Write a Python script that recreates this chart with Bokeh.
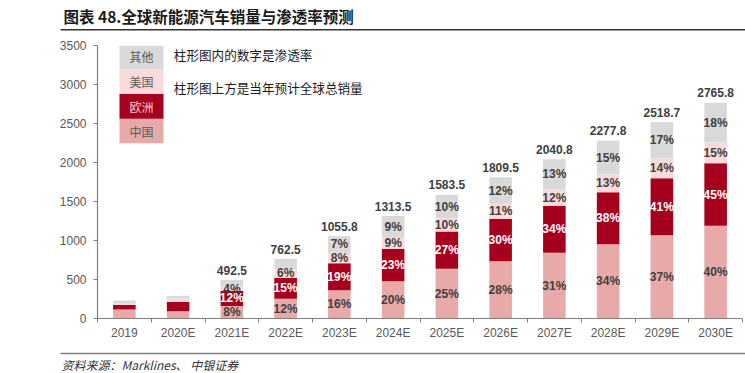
import numpy as np
from bokeh.plotting import figure
from bokeh.models import (ColumnDataSource, FixedTicker, Label, BoxAnnotation,
                          Range1d)
from bokeh.embed import file_html
from bokeh.resources import INLINE
from bokeh.core.properties import value

# ---------------- data (万辆) ----------------
years = ["2019", "2020E", "2021E", "2022E", "2023E", "2024E",
         "2025E", "2026E", "2027E", "2028E", "2029E", "2030E"]
china = [116, 94, 160, 254, 361, 477, 637, 735, 842, 953, 1068, 1188]
europe = [56, 119, 196, 269, 347, 414, 478, 543, 603, 667, 731, 803]
usa = [28, 44, 57, 108, 136, 154, 171, 192, 209, 226, 252, 265]
others = [32, 30, 79.5, 131.5, 211.8, 268.5, 297.5, 339.5, 386.8, 431.8, 467.7, 509.8]
totals = ["", "", "492.5", "762.5", "1055.8", "1313.5", "1583.5",
          "1809.5", "2040.8", "2277.8", "2518.7", "2765.8"]
pct_china = ["", "", "8%", "12%", "16%", "20%", "25%", "28%", "31%", "34%", "37%", "40%"]
pct_europe = ["", "", "12%", "15%", "19%", "23%", "27%", "30%", "34%", "38%", "41%", "45%"]
pct_usa = ["", "", "4%", "6%", "8%", "9%", "10%", "11%", "12%", "13%", "14%", "15%"]
pct_others = ["", "", "", "", "7%", "9%", "10%", "12%", "13%", "15%", "17%", "18%"]
y_ticks = [0, 500, 1000, 1500, 2000, 2500, 3000, 3500]

series = ["china", "europe", "usa", "others"]
legend_names = ["中国", "欧洲", "美国", "其他"]
colors = ["#E8A9A9", "#A6001F", "#FADADA", "#D9D9D9"]
pct_colors = ["#404040", "#FFFFFF", "#404040", "#404040"]

NARROW = "'Liberation Sans Narrow', 'Arial Narrow', 'Liberation Sans', Arial, sans-serif"
CJK = "Noto Sans CJK SC"

W = 745
H_HEAD, H_MAIN, H_FOOT = 37, 308, 28


def blank(h):
    f = figure(width=W, height=h, output_backend="svg", toolbar_location=None,
               x_range=Range1d(0, 1), y_range=Range1d(0, 1), tools="",
               x_axis_location=None, y_axis_location=None, min_border=0)
    f.outline_line_color = None
    f.xgrid.visible = False
    f.ygrid.visible = False
    return f


def cbox(fig, left, right, top, bottom, color):
    fig.add_layout(BoxAnnotation(left=left, right=right, top=top, bottom=bottom,
                                 left_units="canvas", right_units="canvas",
                                 top_units="canvas", bottom_units="canvas",
                                 fill_color=color, fill_alpha=1, line_color=None))


# ---------------- header ----------------
head = blank(H_HEAD)
head.add_layout(Label(x=63, y=15.5, x_units="canvas", y_units="canvas",
                      text="图表 48.全球新能源汽车销量与渗透率预测",
                      text_font=CJK, text_font_size="15.5px", text_font_style="bold",
                      text_color="#1a1a1a", text_baseline="middle"))
cbox(head, 60, W, 28.5, 30, "#333333")

# ---------------- main chart ----------------
x = list(range(len(years)))
vals = np.array([china, europe, usa, others], dtype=float)
tops = np.cumsum(vals, axis=0)
bottoms = tops - vals
mids = bottoms + vals / 2.0

data = dict(x=x, china=china, europe=europe, usa=usa, others=others,
            total_y=list(tops[-1]), totals=totals,
            pct_china=pct_china, pct_europe=pct_europe,
            pct_usa=pct_usa, pct_others=pct_others)
for i, name in enumerate(series):
    data["mid_" + name] = list(mids[i])
src = ColumnDataSource(data)

p = figure(width=W, height=H_MAIN, output_backend="svg", toolbar_location=None,
           x_range=Range1d(-0.5, len(years) - 0.5), y_range=Range1d(0, 3500),
           min_border_left=97, min_border_right=3, min_border_top=8,
           min_border_bottom=27, tools="")
p.outline_line_color = None
p.xgrid.visible = False
p.ygrid.visible = False

p.vbar_stack(series, x="x", width=0.42, color=colors, line_color=None, source=src)

for i, name in enumerate(series):
    p.text(x="x", y="mid_" + name, text="pct_" + name, source=src,
           text_align="center", text_baseline="middle",
           text_font=value(NARROW), text_font_size="12px",
           text_font_style="bold", text_color=pct_colors[i])

p.text(x="x", y="total_y", text="totals", source=src, text_align="center",
       text_baseline="middle", y_offset=-10, text_font=value(NARROW),
       text_font_size="12px", text_font_style="bold", text_color="#404040")

ax = p.xaxis[0]
ax.ticker = FixedTicker(ticks=x, minor_ticks=[v - 0.5 for v in x] + [len(x) - 0.5])
ax.major_label_overrides = {i: y for i, y in enumerate(years)}
ax.major_tick_out = 0
ax.major_tick_in = 0
ax.minor_tick_out = 4
ax.minor_tick_in = 0
ax.minor_tick_line_color = "#808080"
ax.axis_line_color = "#808080"
ax.axis_line_width = 1.2
ax.major_label_text_font = NARROW
ax.major_label_text_font_size = "12px"
ax.major_label_text_color = "#595959"
ax.major_label_standoff = 3

ay = p.yaxis[0]
ay.ticker = FixedTicker(ticks=y_ticks)
ay.major_tick_out = 4
ay.major_tick_in = 0
ay.minor_tick_line_color = None
ay.major_tick_line_color = "#808080"
ay.axis_line_color = "#808080"
ay.axis_line_width = 1.2
ay.major_label_text_font = NARROW
ay.major_label_text_font_size = "12px"
ay.major_label_text_color = "#595959"
ay.major_label_standoff = 7

# legend swatches (main-figure canvas coords)
sw_top = [81.3, 56.3, 32, 8]
sw_bot = [105.7, 81.3, 56.3, 32]
sw_txt_y = [93.5, 68.8, 44.2, 19.3]
leg_txt_colors = ["#595959", "#F2D0D0", "#595959", "#595959"]
for i in range(4):
    cbox(p, 119, 163, sw_top[i], sw_bot[i], colors[i])
    p.add_layout(Label(x=141, y=sw_txt_y[i], x_units="canvas",
                       y_units="canvas", text=legend_names[i], text_font=CJK,
                       text_font_size="12px", text_color=leg_txt_colors[i],
                       text_align="center", text_baseline="middle"))

p.add_layout(Label(x=173.3, y=17, x_units="canvas", y_units="canvas",
                   text="柱形图内的数字是渗透率", text_font=CJK,
                   text_font_size="12.6px", text_color="#1a1a1a",
                   text_baseline="middle"))
p.add_layout(Label(x=173.3, y=49.7, x_units="canvas", y_units="canvas",
                   text="柱形图上方是当年预计全球总销量", text_font=CJK,
                   text_font_size="12.6px", text_color="#1a1a1a",
                   text_baseline="middle"))

# ---------------- footer ----------------
foot = blank(H_FOOT)
cbox(foot, 60, W, 7.3, 8.8, "#808080")
foot.add_layout(Label(x=61, y=19, x_units="canvas", y_units="canvas",
                      text="资料来源：Marklines、 中银证券",
                      text_font=CJK, text_font_size="12px", text_font_style="italic",
                      text_color="#333333", text_baseline="middle"))

open("out.html", "w").write(file_html([head, p, foot], INLINE))
